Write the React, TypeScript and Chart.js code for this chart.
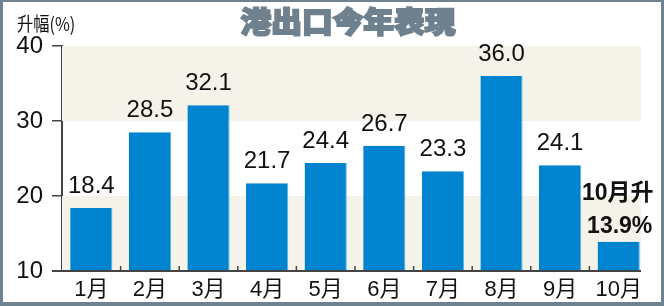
import { useEffect, useRef } from "react";
import { Chart, registerables } from "chart.js";

Chart.register(...registerables);

const months = ["1月", "2月", "3月", "4月", "5月", "6月", "7月", "8月", "9月", "10月"];
const growth = [18.4, 28.5, 32.1, 21.7, 24.4, 26.7, 23.3, 36.0, 24.1, 13.9];
const yMin = 10;
const yMax = 40;
const yStep = 10;
const bandRanges = [
  [10, 20],
  [30, 40],
];
const titleText = "港出口今年表現";
const unitText = "升幅(%)";
const lastNote = ["10月升", "13.9%"];

const FONT = "'Liberation Sans', Arial, 'Noto Sans CJK TC', sans-serif";
const CJK = "'Noto Sans CJK TC', 'Noto Sans CJK SC', sans-serif";

export default function App() {
  const ref = useRef<HTMLCanvasElement | null>(null);

  useEffect(() => {
    document.body.style.margin = "0";
    const canvas = ref.current;
    if (!canvas) return;

    const decor = {
      id: "decor",
      beforeDraw(chart: any) {
        const ctx = chart.ctx;
        ctx.save();
        ctx.fillStyle = "#ffffff";
        ctx.fillRect(0, 0, chart.width, chart.height);
        ctx.restore();
      },
      beforeDatasetsDraw(chart: any) {
        const ctx = chart.ctx;
        const y = chart.scales.y;
        const area = chart.chartArea;
        const right = area.right - 7;
        ctx.save();
        ctx.fillStyle = "#f5f2ea";
        bandRanges.forEach(([a, b]) => {
          const y1 = y.getPixelForValue(b);
          const y2 = y.getPixelForValue(a);
          ctx.fillRect(area.left, y1, right - area.left, y2 - y1);
        });
        ctx.restore();
      },
      afterDatasetsDraw(chart: any) {
        const ctx = chart.ctx;
        const meta = chart.getDatasetMeta(0);
        ctx.save();
        ctx.fillStyle = "#111111";
        ctx.textAlign = "center";
        ctx.textBaseline = "alphabetic";
        ctx.font = `24px ${FONT}`;
        const n = growth.length;
        meta.data.forEach((el: any, i: number) => {
          if (i === n - 1) return;
          ctx.fillText(growth[i].toFixed(1), el.x, el.y - 15);
        });
        const last = meta.data[n - 1];
        ctx.font = `bold 23px ${FONT}`;
        ctx.textBaseline = "middle";
        ctx.fillText(lastNote[0], last.x - 1, last.y - 48);
        ctx.fillText(lastNote[1], last.x + 1, last.y - 15);
        ctx.restore();
      },
      afterDraw(chart: any) {
        const ctx = chart.ctx;
        const area = chart.chartArea;
        const x = chart.scales.x;
        const right = area.right - 7;
        ctx.save();
        ctx.strokeStyle = "#444444";
        ctx.lineWidth = 2;
        ctx.beginPath();
        ctx.moveTo(52, area.bottom);
        ctx.lineTo(right, area.bottom);
        ctx.stroke();
        ctx.lineWidth = 1.5;
        for (let i = 1; i < months.length; i++) {
          const bx = (x.getPixelForValue(i - 1) + x.getPixelForValue(i)) / 2;
          ctx.beginPath();
          ctx.moveTo(bx, area.bottom - 5);
          ctx.lineTo(bx, area.bottom);
          ctx.stroke();
        }
        ctx.fillStyle = "#6f818e";
        ctx.strokeStyle = "#6f818e";
        ctx.lineWidth = 1.8;
        ctx.textAlign = "center";
        ctx.textBaseline = "middle";
        ctx.font = `900 29px ${CJK}`;
        ctx.save();
        ctx.translate(chart.width / 2 + 16, 22);
        ctx.scale(1.06, 1);
        ctx.fillText(titleText, 0, 0);
        ctx.strokeText(titleText, 0, 0);
        ctx.restore();
        ctx.fillStyle = "#111111";
        ctx.textAlign = "left";
        ctx.font = `18px ${CJK}`;
        ctx.save();
        ctx.translate(17, 24);
        ctx.scale(0.9, 1.05);
        ctx.fillText(unitText, 0, 0);
        ctx.restore();
        ctx.fillStyle = "#6e8290";
        ctx.fillRect(0, 0, chart.width, 2);
        ctx.fillRect(0, 0, 3, chart.height);
        ctx.fillRect(chart.width - 3, 0, 3, chart.height);
        ctx.fillRect(0, chart.height - 4, chart.width, 4);
        ctx.restore();
      },
    };

    const chart = new Chart(canvas, {
      type: "bar",
      data: {
        labels: months,
        datasets: [
          {
            data: growth,
            backgroundColor: "#0084cf",
            borderColor: "#5ab4e6",
            borderWidth: { right: 1, left: 0, top: 0, bottom: 0 },
            borderSkipped: false,
            categoryPercentage: 1,
            barPercentage: 0.72,
          },
        ],
      },
      options: {
        responsive: false,
        animation: false,
        layout: { padding: { top: 46, right: 16, bottom: 0, left: 0 } },
        plugins: {
          legend: { display: false },
          tooltip: { enabled: false },
          title: { display: false },
        },
        scales: {
          x: {
            grid: { display: false, drawTicks: false },
            border: { display: false },
            ticks: {
              font: { size: 22, family: FONT },
              color: "#111111",
              padding: 6,
              maxRotation: 0,
              autoSkip: false,
            },
            afterFit: (s: any) => {
              s.height = 35;
            },
          },
          y: {
            min: yMin,
            max: yMax,
            ticks: {
              stepSize: yStep,
              font: { size: 24, family: FONT },
              color: "#111111",
              padding: 9,
            },
            grid: {
              drawOnChartArea: false,
              tickLength: 10,
              color: "#444444",
              lineWidth: 1.5,
            },
            border: { display: true, color: "#444444", width: 2 },
            afterFit: (s: any) => {
              s.width = 62;
            },
          },
        },
      },
      plugins: [decor],
    });

    return () => chart.destroy();
  }, []);

  return <canvas ref={ref} width={664} height={306} style={{ display: "block" }} />;
}
